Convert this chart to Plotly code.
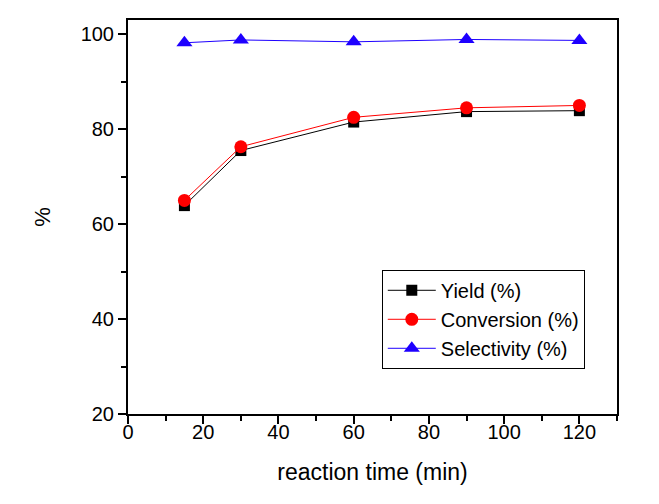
import plotly.graph_objects as go

time_min = [15, 30, 60, 90, 120]
yield_pct = [63.9, 75.5, 81.5, 83.7, 83.9]
conversion_pct = [65.0, 76.3, 82.5, 84.5, 85.0]
selectivity_pct = [98.2, 98.8, 98.4, 98.9, 98.7]

x_ticks = [0, 20, 40, 60, 80, 100, 120]
y_ticks = [20, 40, 60, 80, 100]

FONT = "Arial, Liberation Sans, sans-serif"

fig = go.Figure()
fig.add_trace(go.Scatter(
    x=time_min, y=yield_pct, name="Yield (%)", mode="lines+markers",
    line=dict(color="black", width=1),
    marker=dict(symbol="square", size=11, color="black"),
))
fig.add_trace(go.Scatter(
    x=time_min, y=conversion_pct, name="Conversion (%)", mode="lines+markers",
    line=dict(color="#FF0000", width=1),
    marker=dict(symbol="circle", size=13, color="#FF0000"),
))
fig.add_trace(go.Scatter(
    x=time_min, y=selectivity_pct, name="Selectivity (%)", mode="lines+markers",
    line=dict(color="#1E00FF", width=1),
    marker=dict(symbol="triangle-up", size=14, color="#1E00FF"),
))

axis_common = dict(
    showline=True, linecolor="black", linewidth=2, mirror=True,
    ticks="outside", ticklen=8, tickwidth=2, tickcolor="black",
    showgrid=False, zeroline=False,
    tickfont=dict(family=FONT, size=20, color="black"),
)

fig.update_xaxes(
    range=[0, 130], tickvals=x_ticks, ticktext=[str(v) for v in x_ticks],
    minor=dict(ticks="outside", dtick=10, tick0=0, ticklen=5, tickwidth=2, tickcolor="black"),
    ticklabelstandoff=-9,
    title=dict(text="reaction time (min)", font=dict(family=FONT, size=23, color="black"), standoff=22),
    **axis_common,
)
fig.update_yaxes(
    range=[20, 103], tickvals=y_ticks, ticktext=[str(v) for v in y_ticks],
    minor=dict(ticks="outside", dtick=10, tick0=0, ticklen=5, tickwidth=2, tickcolor="black"),
    title=dict(text="%", font=dict(family=FONT, size=22, color="black"), standoff=24),
    **axis_common,
)

fig.update_layout(
    width=659, height=504,
    margin=dict(l=128, r=42, t=20, b=90),
    plot_bgcolor="white", paper_bgcolor="white",
    font=dict(family=FONT, color="black"),
    legend=dict(
        x=0.519, y=0.366, xanchor="left", yanchor="top",
        bgcolor="white", bordercolor="black", borderwidth=1,
        font=dict(family=FONT, size=20, color="black"),
        tracegroupgap=0, itemwidth=48,
    ),
)

fig.write_html("out.html", config={"displayModeBar": False},
               post_script="document.body.style.margin='0';")
